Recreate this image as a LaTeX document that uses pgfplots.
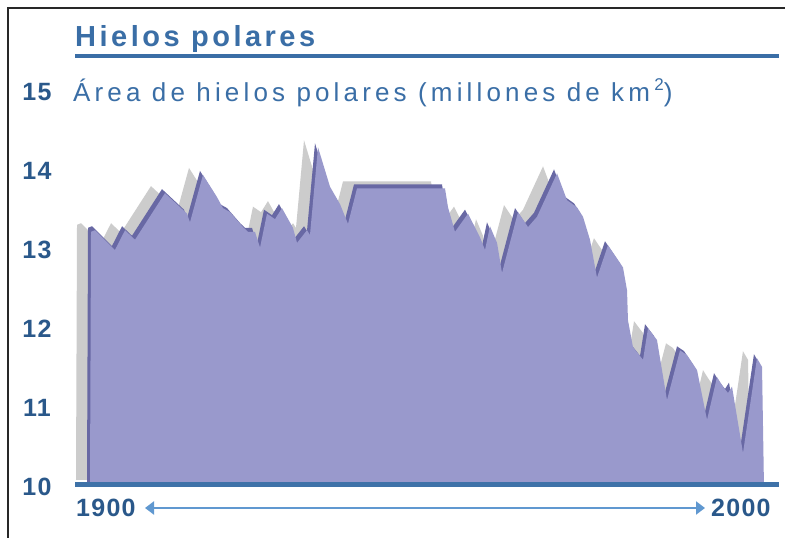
\documentclass[border=0pt]{standalone}
\usepackage{fontspec}
\setmainfont{Liberation Sans}
\newfontfamily\titlefont[LetterSpace=12]{Liberation Sans}
\newfontfamily\subfont[LetterSpace=16]{Liberation Sans}
\newfontfamily\tickfont[LetterSpace=5]{Liberation Sans}
\usepackage{pgfplots}
\pgfplotsset{compat=1.18}
\usetikzlibrary{arrows.meta}

\definecolor{icepurple}{RGB}{153,153,204}
\definecolor{rimpurple}{RGB}{104,104,164}
\definecolor{shadowgray}{RGB}{204,204,204}
\definecolor{titleblue}{RGB}{58,110,166}
\definecolor{tickblue}{RGB}{42,88,138}
\definecolor{lineblue}{RGB}{62,114,168}
\definecolor{arrowblue}{RGB}{96,152,208}
\definecolor{framegray}{RGB}{40,40,40}

% area of polar ice, millions of km^2
\pgfplotstableread{
year area
1900.00 10.00
1900.15 13.23
1900.74 13.25
1903.70 13.00
1905.19 13.25
1906.67 13.13
1911.11 13.72
1914.37 13.46
1914.81 13.35
1916.74 13.95
1918.81 13.67
1919.70 13.53
1920.74 13.48
1922.67 13.29
1923.41 13.23
1924.44 13.23
1925.19 13.03
1926.22 13.46
1927.41 13.39
1928.44 13.53
1930.07 13.28
1930.67 13.09
1932.15 13.25
1932.59 13.19
1933.78 14.30
1935.56 13.80
1937.04 13.58
1938.22 13.33
1939.56 13.78
1952.59 13.78
1953.04 13.54
1954.07 13.23
1956.00 13.46
1957.78 13.16
1958.52 13.00
1959.26 13.30
1960.30 13.09
1961.04 12.71
1963.41 13.48
1964.89 13.29
1966.22 13.42
1969.19 13.97
1970.67 13.63
1972.15 13.54
1973.04 13.42
1974.07 13.13
1975.11 12.65
1976.74 13.06
1978.96 12.78
1979.56 12.49
1979.70 12.11
1980.44 11.77
1981.93 11.61
1982.67 12.01
1984.00 11.86
1985.48 11.10
1987.41 11.73
1988.44 11.67
1989.93 11.48
1991.41 10.85
1992.89 11.39
1993.78 11.27
1994.52 11.19
1995.11 11.27
1996.74 10.43
1998.81 11.63
1999.56 11.52
1999.85 10.00
}\icedata

\begin{document}
\begin{tikzpicture}
\useasboundingbox[fill=white] (0,0) rectangle (785pt,538pt);
% frame
\draw[framegray, line width=2pt] (8pt,-2pt) -- (8pt,530pt) -- (787pt,530pt);
% title
\node[anchor=base west, inner sep=0pt, text=titleblue]
  at (75pt,491pt) {\titlefont\bfseries\fontsize{29}{29}\selectfont Hielos polares};
\draw[titleblue, line width=4pt] (75pt,482pt) -- (779pt,482pt);
\node[anchor=base west, inner sep=0pt, text=titleblue]
  at (73pt,436pt) {\subfont\fontsize{26}{26}\selectfont Área de hielos polares (millones de km\,\raisebox{0.45em}{\fontsize{17}{17}\selectfont 2})};

\begin{axis}[
  at={(90pt,51pt)}, anchor=south west,
  scale only axis, width=675pt, height=395pt,
  xmin=1900, xmax=2000, ymin=10, ymax=15,
  clip=false,
  axis line style={draw=none},
  tick style={draw=none},
  major tick length=0pt,
  xtick=\empty,
  ytick={10,11,12,13,14,15},
  yticklabels={10,11,12,13,14,15},
  yticklabel style={anchor=center, xshift=-53pt, text=tickblue,
    font=\tickfont\bfseries\fontsize{25}{25}\selectfont},
]
\addplot[fill=shadowgray, draw=none, xshift=-14pt, yshift=7pt]
  table[x=year, y=area] {\icedata} -- cycle;
\addplot[fill=rimpurple, draw=none, xshift=-3pt, yshift=4pt]
  table[x=year, y=area] {\icedata} -- cycle;
\addplot[fill=icepurple, draw=none]
  table[x=year, y=area] {\icedata} -- cycle;
\end{axis}

% base line and time arrow
\draw[lineblue, line width=5pt] (75pt,53.5pt) -- (779pt,53.5pt);
\draw[arrowblue, line width=2pt,
  {Triangle[width=13pt,length=9pt]}-{Triangle[width=13pt,length=9pt]}]
  (145pt,30pt) -- (705pt,30pt);
\node[anchor=base west, inner sep=0pt, text=tickblue]
  at (76pt,21pt) {\tickfont\bfseries\fontsize{25}{25}\selectfont 1900};
\node[anchor=base west, inner sep=0pt, text=tickblue]
  at (711pt,21pt) {\tickfont\bfseries\fontsize{25}{25}\selectfont 2000};
\end{tikzpicture}
\end{document}
